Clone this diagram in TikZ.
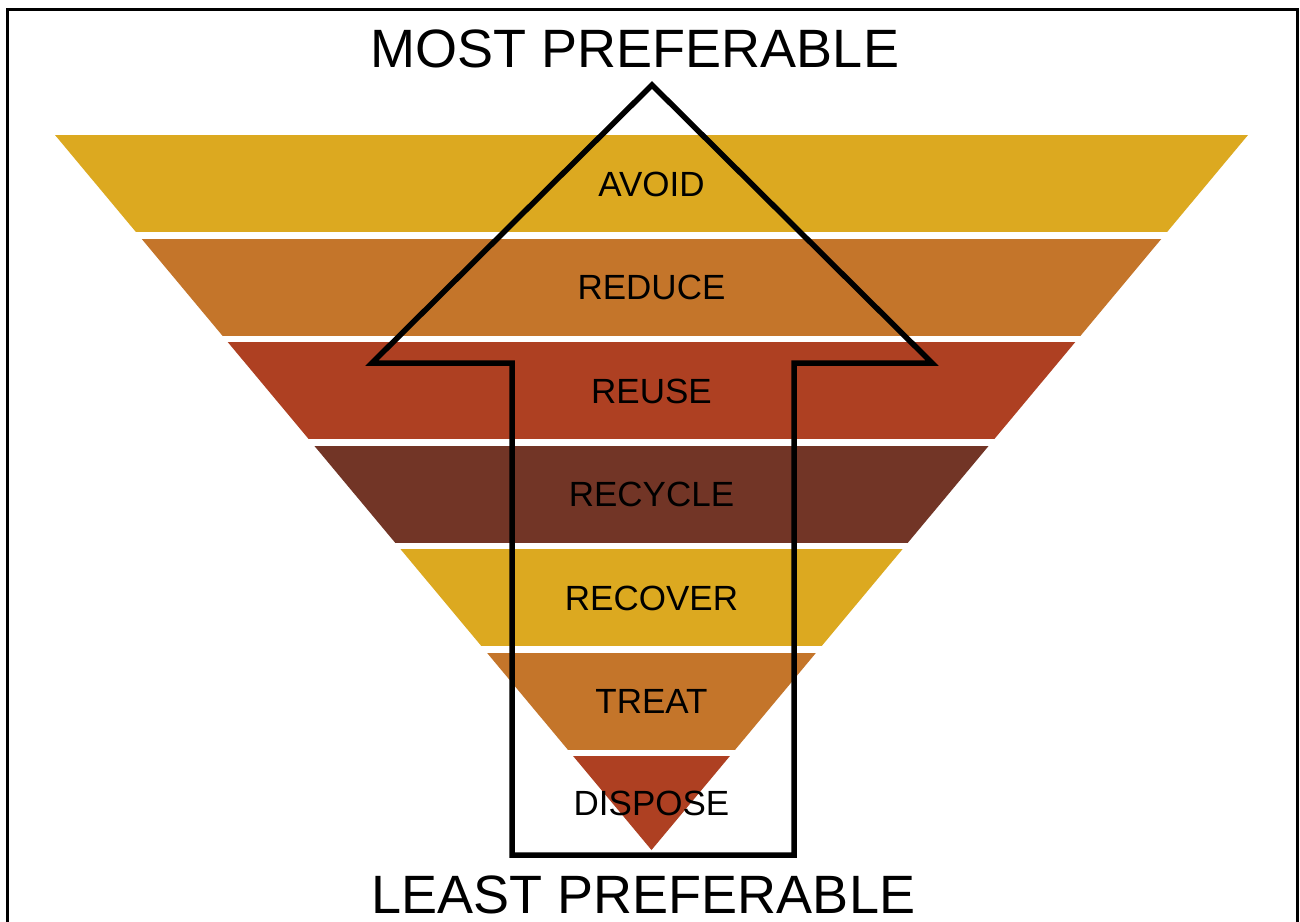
\documentclass[tikz,border=0pt]{standalone}
\usepackage{fontspec}
\setmainfont{Liberation Sans}
\begin{document}
\begin{tikzpicture}[x=1pt,y=-1pt,
  bandlabel/.style={anchor=base,inner sep=0pt,font=\fontsize{35}{42}\selectfont,text=black},
  heading/.style={anchor=base,inner sep=0pt,font=\fontsize{54}{64}\selectfont,text=black},
  arrowline/.style={draw=black,line width=5.5pt,line join=miter,miter limit=10}]
\definecolor{wgold}{RGB}{220,169,32}
\definecolor{worange}{RGB}{196,117,42}
\definecolor{wrust}{RGB}{174,64,34}
\definecolor{wbrown}{RGB}{114,53,38}

\useasboundingbox (0,0) rectangle (1300,921);
\fill[white] (0,0) rectangle (1300,921);

% outer frame (open at the bottom edge of the page)
\draw[line width=3pt] (7,925) -- (7,9) -- (1297,9) -- (1297,925);

% inverted pyramid, cut into seven bands
\begin{scope}
  \clip (55,135) -- (1248,135) -- (651.5,850) -- cycle;
  \fill[wgold]   (0,135)   rectangle (1300,232);
  \fill[worange] (0,238.5) rectangle (1300,335.5);
  \fill[wrust]   (0,342)   rectangle (1300,439);
  \fill[wbrown]  (0,445.5) rectangle (1300,542.5);
  \fill[wgold]   (0,549)   rectangle (1300,646);
  \fill[worange] (0,652.5) rectangle (1300,749.5);
  \fill[wrust]   (0,756)   rectangle (1300,860);
\end{scope}

% upward arrow outline
\draw[arrowline] (652,85) -- (932,363) -- (794,363) -- (794,855)
  -- (512,855) -- (512,363) -- (372,363) -- cycle;

% band labels
\node[bandlabel] (avoid)   at (651.5,196)   {AVOID};
\node[bandlabel] (reduce)  at (651.5,299.5) {REDUCE};
\node[bandlabel] (reuse)   at (651.5,403)   {REUSE};
\node[bandlabel] (recycle) at (651.5,506.5) {RECYCLE};
\node[bandlabel] (recover) at (651.5,610)   {RECOVER};
\node[bandlabel] (treat)   at (651.5,713.5) {TREAT};
\node[bandlabel] (dispose) at (651.5,815)   {DISPOSE};

% headings
\node[heading] (most)  at (635,67)    {MOST PREFERABLE};
\node[heading] (least) at (643.5,913) {LEAST PREFERABLE};
\end{tikzpicture}
\end{document}
